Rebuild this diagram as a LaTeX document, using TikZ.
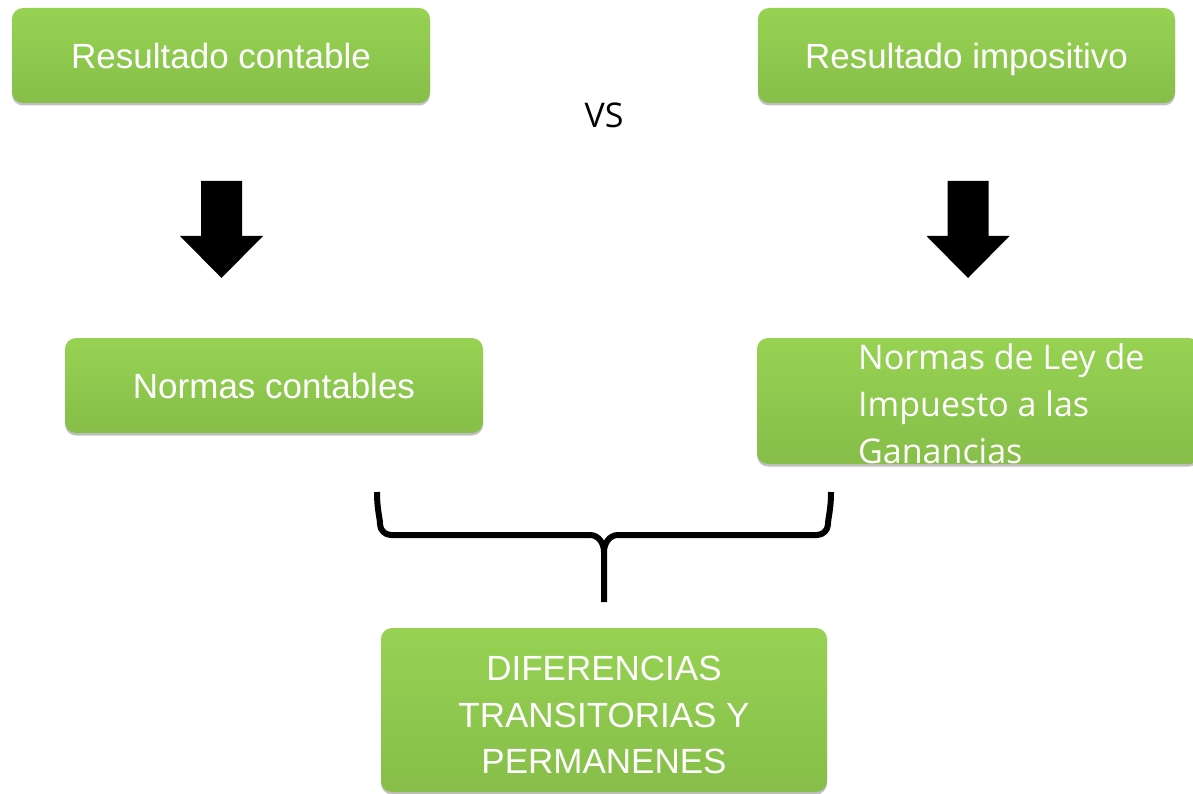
\documentclass[tikz,border=0pt]{standalone}
\usepackage{fontspec}
\setmainfont{Liberation Sans}
\newfontfamily\osans{Open Sans}
\usetikzlibrary{shadows}
\definecolor{gtop}{HTML}{97D253}
\definecolor{gbot}{HTML}{86BE49}
\tikzset{
  gbox/.style={rounded corners=11pt, top color=gtop, bottom color=gbot, draw=none,
    text=white, font=\fontsize{35}{46}\selectfont, align=center, inner sep=0pt, text depth=0pt,
    drop shadow={shadow xshift=0pt, shadow yshift=-2.5pt, opacity=0.35, fill=black!70}},
  blk/.style={fill=black},
  bracestyle/.style={line width=6pt, line join=round, line cap=butt},
  wtext/.style={text=white, inner sep=0pt}
}
\begin{document}
\begin{tikzpicture}[x=1pt,y=-1pt]
\clip (0,0) rectangle (1193,794);
\fill[white] (0,0) rectangle (1193,794);

% top boxes
\node[gbox, minimum width=418pt, minimum height=95pt] (rc) at (221,55.5) {Resultado contable};
\node[gbox, minimum width=417pt, minimum height=95pt] (ri) at (966.5,55.5) {Resultado impositivo};
\node[inner sep=0pt, font=\osans\fontsize{34}{40}\selectfont] (vs) at (604,115) {VS};

% block arrows
\fill[blk, shift={(221.5,0)}] (-20.5,181) -- (20.5,181) -- (20.5,236) -- (41.5,236) -- (0,278) -- (-41.5,236) -- (-20.5,236) -- cycle;
\fill[blk, shift={(968,0)}] (-20.5,181) -- (20.5,181) -- (20.5,236) -- (41.5,236) -- (0,278) -- (-41.5,236) -- (-20.5,236) -- cycle;

% middle boxes
\node[gbox, minimum width=418pt, minimum height=95pt] (nc) at (274,385.5) {Normas contables};
\node[gbox, minimum width=443pt, minimum height=126pt] (nl) at (978.5,401) {};
\node[wtext, anchor=north west, align=left, font=\osans\fontsize{34}{47}\selectfont] (nlt) at (858,343)
  {Normas de Ley de\\Impuesto a las\\Ganancias};

% brace
\draw[bracestyle] (377,492) .. controls (377,510) and (380,518) .. (380,524)
  to[out=-90,in=180] (391,535) -- (590,535) to[out=0,in=90] (604,552) -- (604,602);
\draw[bracestyle] (831,492) .. controls (831,510) and (828,518) .. (828,524)
  to[out=-90,in=0] (817,535) -- (618,535) to[out=180,in=90] (604,552);

% bottom box
\node[gbox, minimum width=446pt, minimum height=164pt] (df) at (604,710) {};
\node[wtext, align=center, font=\fontsize{35}{46.5}\selectfont] (dft) at (604,715)
  {DIFERENCIAS\\TRANSITORIAS Y\\PERMANENES};
\end{tikzpicture}
\end{document}
